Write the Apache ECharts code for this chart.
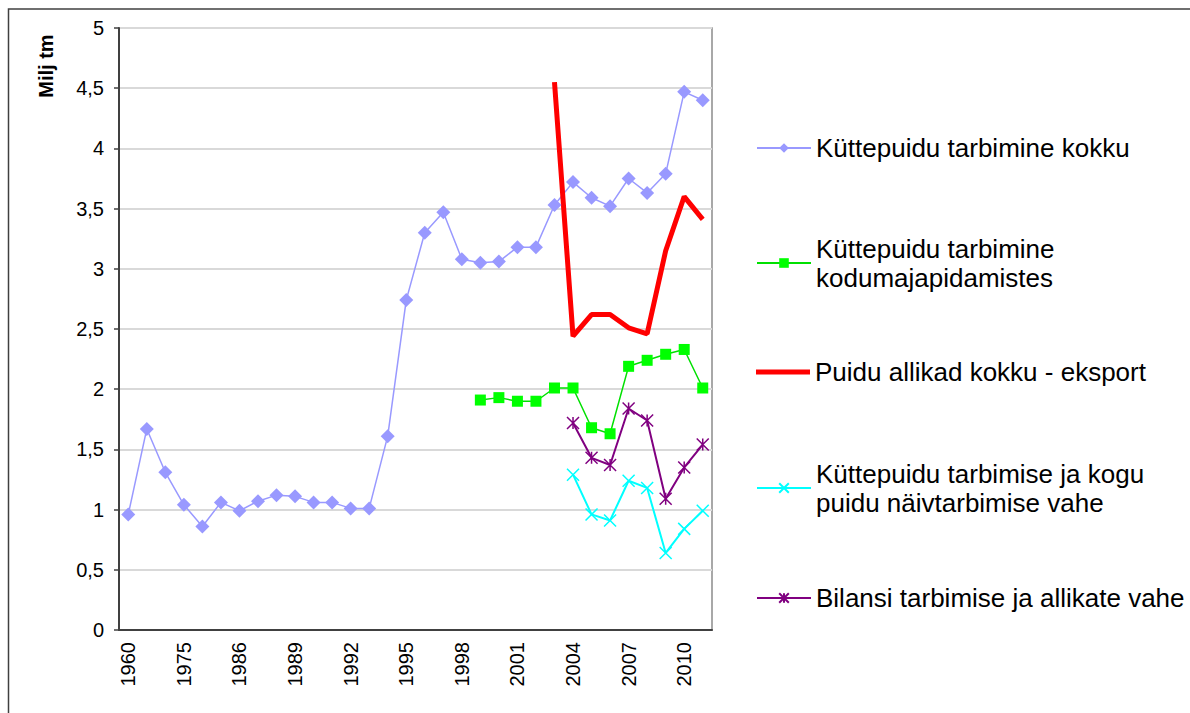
<!DOCTYPE html>
<html>
<head>
<meta charset="utf-8">
<script src="https://cdn.jsdelivr.net/npm/echarts@6/dist/echarts.min.js"></script>
<style>
  html, body { margin: 0; padding: 0; background: #fff; }
  #chart { width: 1190px; height: 713px; }
</style>
</head>
<body>
<div id="chart"></div>
<script>
// aastad (x-telg)
const years = ['1960', '1965', '1970', '1975', '1980', '1985', '1986', '1987', '1988', '1989',
  '1990', '1991', '1992', '1993', '1994', '1995', '1996', '1997', '1998', '1999', '2000',
  '2001', '2002', '2003', '2004', '2005', '2006', '2007', '2008', '2009', '2010', '2011']

const names = [
  'Küttepuidu tarbimine kokku',
  'Küttepuidu tarbimine\nkodumajapidamistes',
  'Puidu allikad kokku - eksport',
  'Küttepuidu tarbimise ja kogu\npuidu näivtarbimise vahe',
  'Bilansi tarbimise ja allikate vahe'
]

const kokku = [0.96, 1.67, 1.31, 1.04, 0.86, 1.06, 0.99, 1.07, 1.12, 1.11, 1.06, 1.06, 1.01, 1.01,
  1.61, 2.74, 3.30, 3.47, 3.08, 3.05, 3.06, 3.18, 3.18, 3.53, 3.72, 3.59, 3.52, 3.75, 3.63,
  3.79, 4.47, 4.40]
const kodu = [null, null, null, null, null, null, null, null, null, null, null, null, null, null,
  null, null, null, null, null, 1.91, 1.93, 1.90, 1.90, 2.01, 2.01, 1.68, 1.63, 2.19, 2.24,
  2.29, 2.33, 2.01]
const allikad = [null, null, null, null, null, null, null, null, null, null, null, null, null, null,
  null, null, null, null, null, null, null, null, null, 4.55, 2.44, 2.62, 2.62, 2.51, 2.46,
  3.15, 3.60, 3.41]
const vahe = [null, null, null, null, null, null, null, null, null, null, null, null, null, null,
  null, null, null, null, null, null, null, null, null, null, 1.29, 0.96, 0.91, 1.24, 1.18,
  0.64, 0.84, 0.99]
const bilanss = [null, null, null, null, null, null, null, null, null, null, null, null, null, null,
  null, null, null, null, null, null, null, null, null, null, 1.72, 1.43, 1.37, 1.84, 1.74,
  1.09, 1.35, 1.54]

const font = 'Liberation Sans, Arial, sans-serif'
const xPath = 'path://M0,0L10,10M10,0L0,10'
const starPath = 'path://M0,0L10,10M10,0L0,10M5,0L5,10'

// legend: iga kirje eraldi, et ikoon jääks esimese rea kõrgusele
const legendY = [148, 263, 372, 488, 598]
const legends = names.map((n, i) => {
  const twoLines = n.indexOf('\n') >= 0
  const isRed = i === 2
  return {
    data: isRed ? [{ name: n, icon: 'rect' }] : [n],
    left: 756,
    top: twoLines ? legendY[i] - 43.5 : legendY[i] - 14.5,
    orient: 'vertical',
    padding: 0,
    itemWidth: 54,
    itemHeight: isRed ? 5 : 12,
    selectedMode: false,
    textStyle: {
      fontFamily: font,
      fontSize: 26,
      color: '#000',
      lineHeight: 29,
      padding: twoLines ? [29, 0, 0, 0] : 0
    }
  }
})

const chart = echarts.init(document.getElementById('chart'), null, { renderer: 'svg' })

chart.setOption({
  backgroundColor: '#fff',
  animation: false,
  graphic: [
    {
      type: 'rect',
      shape: { x: 8.5, y: 9, width: 1200, height: 720 },
      style: { fill: 'none', stroke: '#404040', lineWidth: 1.5 }
    },
    {
      type: 'text',
      x: 46,
      y: 66,
      rotation: Math.PI / 2,
      style: {
        text: 'Milj tm',
        font: 'bold 20px ' + font,
        fill: '#000',
        align: 'center',
        verticalAlign: 'middle'
      }
    }
  ],
  legend: legends,
  grid: {
    left: 119,
    right: 478,
    top: 28,
    bottom: 83,
    show: true,
    borderColor: '#8c8c8c',
    borderWidth: 1.5
  },
  xAxis: {
    type: 'category',
    data: years,
    boundaryGap: true,
    axisLine: { lineStyle: { color: '#404040', width: 2 } },
    axisTick: { interval: 0, length: 5, lineStyle: { color: '#404040', width: 1.5 } },
    axisLabel: {
      interval: 2,
      rotate: 90,
      margin: 12,
      fontFamily: font,
      fontSize: 20,
      color: '#000'
    },
    splitLine: { show: false }
  },
  yAxis: {
    type: 'value',
    min: 0,
    max: 5,
    interval: 0.5,
    axisLine: { show: true, lineStyle: { color: '#404040', width: 2 } },
    axisTick: { show: true, length: 5, lineStyle: { color: '#404040', width: 1.5 } },
    axisLabel: {
      margin: 15,
      fontFamily: font,
      fontSize: 20,
      color: '#000',
      formatter: v => String(v).replace('.', ',')
    },
    splitLine: { lineStyle: { color: '#d9d9d9', width: 2 } }
  },
  series: [
    {
      name: names[0],
      type: 'line',
      data: kokku,
      symbol: 'diamond',
      symbolSize: 14,
      showAllSymbol: true,
      lineStyle: { color: '#9999ff', width: 1.5 },
      itemStyle: { color: '#9999ff' }
    },
    {
      name: names[1],
      type: 'line',
      data: kodu,
      symbol: 'rect',
      symbolSize: 11,
      showAllSymbol: true,
      lineStyle: { color: '#00e000', width: 1.5 },
      itemStyle: { color: '#00ff00' }
    },
    {
      name: names[2],
      type: 'line',
      data: allikad,
      symbol: 'none',
      lineStyle: { color: '#ff0000', width: 5 },
      itemStyle: { color: '#ff0000' }
    },
    {
      name: names[3],
      type: 'line',
      data: vahe,
      symbol: xPath,
      symbolSize: 12,
      showAllSymbol: true,
      lineStyle: { color: '#00ffff', width: 2 },
      itemStyle: { color: '#00ffff', borderColor: '#00ffff', borderWidth: 1.5 }
    },
    {
      name: names[4],
      type: 'line',
      data: bilanss,
      symbol: starPath,
      symbolSize: 12,
      showAllSymbol: true,
      lineStyle: { color: '#800080', width: 2 },
      itemStyle: { color: '#800080', borderColor: '#800080', borderWidth: 1.5 }
    }
  ]
})
</script>
</body>
</html>
